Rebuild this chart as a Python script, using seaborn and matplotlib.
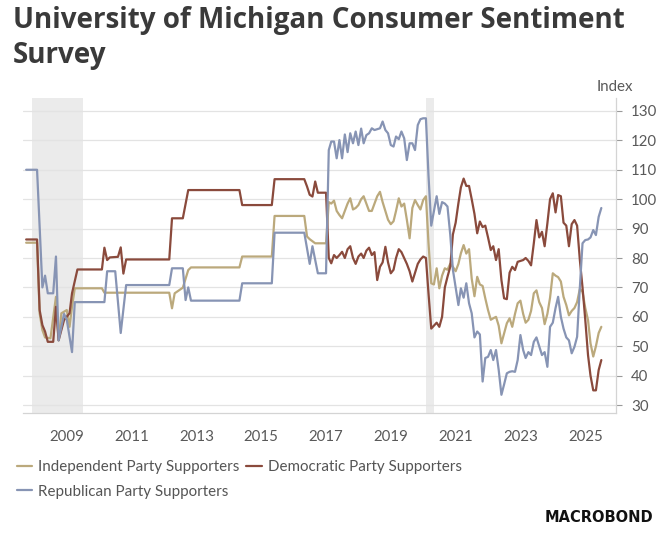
import numpy as np
import pandas as pd
import matplotlib
matplotlib.use("Agg")
import matplotlib.pyplot as plt
import matplotlib.dates as mdates
from matplotlib.ticker import FixedLocator
import seaborn as sns

# ---------------- data ----------------
series_names = ["Independent Party Supporters", "Democratic Party Supporters",
                "Republican Party Supporters"]

# early, sparse part (breakpoints)
rep_early_dates = ["2007-10", "2008-02", "2008-04", "2008-05", "2008-06", "2008-08", "2008-09",
                   "2008-10", "2008-12", "2009-01", "2009-03", "2009-04", "2010-03", "2010-04",
                   "2010-07", "2010-09", "2010-11", "2012-03", "2012-04", "2012-08", "2012-09",
                   "2012-10", "2012-11", "2014-05", "2014-06", "2015-05", "2015-06", "2016-05",
                   "2016-07", "2016-08", "2016-10", "2017-01"]
rep_early_values = [110, 110, 70, 74, 68, 68, 80.5, 52, 61, 59, 48, 65, 65, 75.5,
                    75.5, 54.5, 70.8, 70.8, 76.5, 76.5, 65.7, 70, 65.5, 65.5, 71.4, 71.4, 88.6, 88.6,
                    78, 84, 74.8, 74.8]

dem_early_dates = ["2007-10", "2008-02", "2008-03", "2008-04", "2008-05", "2008-06", "2008-08",
                   "2008-09", "2008-10", "2008-12", "2009-02", "2009-03", "2009-05", "2010-02",
                   "2010-03", "2010-04", "2010-05", "2010-08", "2010-09", "2010-10", "2010-11",
                   "2012-03", "2012-04", "2012-08", "2012-10", "2014-05", "2014-06", "2015-05",
                   "2015-06", "2016-05", "2016-06", "2016-07", "2016-08", "2016-09", "2016-10",
                   "2017-01"]
dem_early_values = [86.3, 86.3, 62.3, 57.2, 55, 51.5, 51.5, 63.4, 52, 58.9, 61.2, 68, 76.1, 76.1,
                    83.5, 79.3, 80.2, 80.4, 83.6, 74.7, 79.5, 79.5, 93.5, 93.5, 103.1, 103.1, 98,
                    98, 106.8, 106.8, 104.3, 101.5, 100.9, 106, 102.2, 102.2]

ind_early_dates = ["2007-10", "2008-02", "2008-03", "2008-04", "2008-05", "2008-07", "2008-09",
                   "2008-10", "2008-11", "2009-01", "2009-02", "2009-03", "2009-04", "2010-02",
                   "2010-03", "2012-03", "2012-04", "2012-05", "2012-08", "2012-10", "2012-11",
                   "2014-05", "2014-06", "2015-05", "2015-06", "2016-05", "2016-06", "2016-07",
                   "2016-09", "2017-01"]
ind_early_values = [85.2, 85.2, 61.2, 55.5, 53, 52.7, 66.8, 52.1, 61.2, 62.3, 56.6, 63.4, 69.7,
                    69.7, 68.2, 68.2, 62.9, 68, 69.9, 75.9, 76.8, 76.8, 80.5, 80.5, 94.3, 94.3,
                    87.3, 86.4, 85, 85]

# monthly part, Feb 2017 .. Jul 2025
monthly_start, monthly_end = "2017-02", "2025-07"
rep_monthly = [116.7, 119.6, 119.6, 113.9, 120.1, 113.9, 122.0, 116.0, 122.4, 119.0, 123.0,
               118.4, 124.0, 119.0, 121.8, 122.4, 124.1, 123.5, 123.8, 124.1, 126.4, 123.5,
               122.4, 118.4, 117.9, 121.3, 120.4, 123.0, 120.7, 113.3, 119.0, 119.0, 116.7,
               125.2, 127.2,
               127.5, 127.5, 108, 91, 96, 101, 95, 99, 98.5, 97.5, 88, 76,
               70, 64, 69.7, 66.5, 71.4, 64.6, 61.2, 53, 55, 54, 38, 46,
               46.4, 48.7, 45.3, 48.7, 42, 33.5, 37, 40.8, 41.3, 41.5, 41.3, 45.3,
               53.8, 48.7, 46, 48, 47, 51.5, 53, 50, 47, 48, 43, 56.6,
               58, 63, 66.8, 60, 56, 53, 52, 47.6, 49.8, 53.2, 70, 85,
               86.1, 86.3, 87, 89.5, 87.8, 94, 97]
dem_monthly = [80, 78.2, 81, 80, 81, 82.1, 80, 83, 84, 80, 78,
               80.5, 81.5, 80, 82.5, 83.5, 81, 82, 72.5, 77, 78.5, 83.8, 78.5,
               74.8, 76, 80, 83, 82, 80, 78, 75.5, 72, 75, 78, 79.5,
               80.5, 80, 68, 56, 57, 58, 56.6, 60, 70, 73.6, 77, 88,
               92, 98.6, 104, 107, 104.5, 104.5, 100, 95, 88.4, 92.4, 90.5, 91,
               87, 82.7, 84, 79.3, 83, 72.5, 66.3, 66, 75, 77, 75.9, 78.7,
               79, 79.3, 80, 79, 77.5, 85, 92.9, 87, 88.9, 84, 91.8, 100,
               102, 95.5, 101.4, 101, 92, 91, 84, 91.5, 92.9, 91, 79.3, 70,
               59, 47, 40, 35, 35, 41.9, 45.3]
ind_monthly = [99, 98.5, 99.5, 96, 94.6, 93.5, 96, 98.5, 100.3, 96.5, 97,
               98, 100, 101, 98.5, 96, 96, 98.5, 101, 102.5, 99, 96, 93,
               91.5, 92.5, 96, 100.3, 97.5, 98.5, 93, 86.7, 97, 99.7, 98, 96.5,
               99.7, 101, 85, 71.4, 71, 76.5, 69.7, 74, 76.5, 76, 78, 77,
               75.5, 78, 81.6, 84.4, 81.5, 83, 73, 67, 73.6, 71, 70.5, 66.3,
               62.3, 59, 59.5, 60, 57, 51, 54.4, 57.8, 59.5, 56.6, 61, 64.6,
               65.5, 61, 58, 59, 62, 68, 69, 65, 63, 57.5, 61, 66.5,
               74.8, 74, 73.5, 72, 66.8, 64, 60.5, 62, 63, 65, 69.5, 68.5,
               63, 58.9, 51, 46.5, 50, 54.5, 56.6]

recession_starts = ["2007-12-01", "2020-02-01"]
recession_ends = ["2009-06-30", "2020-04-30"]

y_ticks = [30, 40, 50, 60, 70, 80, 90, 100, 110, 120, 130]
x_tick_years = [2009, 2011, 2013, 2015, 2017, 2019, 2021, 2023, 2025]

colors = {"Independent Party Supporters": "#bba97c",
          "Democratic Party Supporters": "#8a4a3c",
          "Republican Party Supporters": "#8794b4"}

# ---------------- build table ----------------
months = pd.date_range(monthly_start, monthly_end, freq="MS")
frames = []
for name, ed, ev, mv in [
        (series_names[0], ind_early_dates, ind_early_values, ind_monthly),
        (series_names[1], dem_early_dates, dem_early_values, dem_monthly),
        (series_names[2], rep_early_dates, rep_early_values, rep_monthly)]:
    assert len(ed) == len(ev) and len(mv) == len(months)
    d = list(pd.to_datetime(ed)) + list(months)
    frames.append(pd.DataFrame({"date": d, "value": list(ev) + list(mv), "series": name}))
df = pd.concat(frames, ignore_index=True)

# ---------------- draw ----------------
sns.set_style("white")
plt.rcParams["font.family"] = ["Lato", "DejaVu Sans"]

W, H = 665, 533
fig = plt.figure(figsize=(W / 100, H / 100), dpi=100)
left, right, top, bottom = 22.6, 615.7, 98, 413
ax = fig.add_axes([left / W, 1 - bottom / H, (right - left) / W, (bottom - top) / H])

for s, e in zip(recession_starts, recession_ends):
    ax.axvspan(pd.Timestamp(s), pd.Timestamp(e), color="#ebebeb", lw=0, zorder=0)

sns.lineplot(data=df, x="date", y="value", hue="series", hue_order=series_names,
             palette=colors, linewidth=1.6, ax=ax, estimator=None, sort=True, zorder=3)

ax.set_xlim(pd.Timestamp("2007-08-22"), pd.Timestamp("2025-12-10"))
ax.set_ylim(27.3, 134.4)
ax.set_xlabel("")
ax.set_ylabel("")

ax.yaxis.tick_right()
ax.set_yticks(y_ticks)
ax.xaxis.set_major_locator(FixedLocator([mdates.date2num(pd.Timestamp(f"{y}-01-01")) for y in x_tick_years]))
ax.xaxis.set_major_formatter(mdates.DateFormatter("%Y"))
ax.tick_params(axis="both", which="major", direction="out", length=4, width=0.8,
               color="#9a9a9a", labelcolor="#595959", labelsize=10.8)
ax.tick_params(axis="x", pad=8)
ax.tick_params(axis="y", pad=7)
ax.grid(axis="y", color="#e3e3e3", lw=0.9)
ax.grid(axis="x", visible=False)
for sp in ["left", "top"]:
    ax.spines[sp].set_visible(False)
for sp in ["right", "bottom"]:
    ax.spines[sp].set_color("#d4d4d4")
    ax.spines[sp].set_linewidth(0.9)

# legend (row-major order)
handles, labels = ax.get_legend_handles_labels()
hmap = dict(zip(labels, handles))
order = [series_names[0], series_names[2], series_names[1]]
ax.legend([hmap[l] for l in order], order, ncol=2, loc="upper left",
          bbox_to_anchor=(17 / W, 1 - 460 / H), bbox_transform=fig.transFigure,
          frameon=False, borderpad=0, borderaxespad=0, handlelength=1.0,
          handletextpad=0.4, columnspacing=0.45, labelspacing=0.7,
          prop={"family": ["Lato", "DejaVu Sans"], "size": 10.9}, labelcolor="#555555")

# title, unit label, logo
fig.text(13 / W, 1 - 63 / H, "University of Michigan Consumer Sentiment\nSurvey",
         ha="left", va="baseline", fontsize=20, fontweight="bold",
         family=["Open Sans", "DejaVu Sans"], color="#3a3a3a", linespacing=1.27)
fig.text(615 / W, 1 - 87 / H, "Index", ha="center", va="center", fontsize=10.8,
         color="#595959")
fig.text(653 / W, 1 - 518 / H, "MACROBOND", ha="right", va="center", fontsize=10.5,
         fontweight="heavy", family=["DejaVu Sans"], color="#111111")

fig.savefig("out.png", dpi=100)
